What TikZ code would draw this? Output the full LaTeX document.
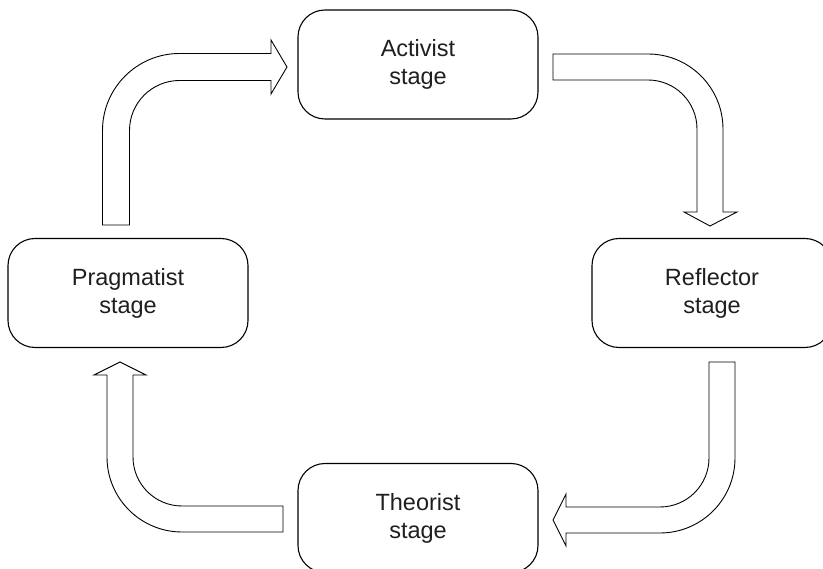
\documentclass[tikz,border=0pt]{standalone}
\usepackage{fontspec}
\setmainfont{Liberation Sans}
\begin{document}
\begin{tikzpicture}[x=1pt,y=1pt,
  stagebox/.style={draw=black, line width=1.1pt, rounded corners=27pt,
    minimum width=240pt, minimum height=109pt, inner sep=0pt, align=center,
    font=\fontsize{23.5}{28}\selectfont, text=black!88},
  bentarrow/.style={draw=black, line width=0.9pt, fill=white, line join=miter}]
\clip (0,0) rectangle (823,-569);
\fill[white] (0,0) rectangle (823,-569);

\node[stagebox] (act) at (418,-64.5) {Activist\\stage};
\node[stagebox] (ref) at (712,-293) {Reflector\\stage};
\node[stagebox] (the) at (418,-518) {Theorist\\stage};
\node[stagebox] (pra) at (128,-293) {Pragmatist\\stage};

% Pragmatist -> Activist
\draw[bentarrow] (102.5,-225) -- (102.5,-130.5) arc[start angle=180,end angle=90,radius=77]
  -- (271,-53.5) -- (271,-40) -- (287,-67) -- (271,-94) -- (271,-80.5) -- (179.5,-80.5)
  arc[start angle=90,end angle=180,radius=50] -- (129.5,-225) -- cycle;

% Activist -> Reflector
\draw[bentarrow] (553,-54) -- (648,-54) arc[start angle=90,end angle=0,radius=75]
  -- (723,-212) -- (737,-212) -- (710,-226) -- (684,-212) -- (697,-212) -- (697,-129)
  arc[start angle=0,end angle=90,radius=49] -- (553,-80) -- cycle;

% Reflector -> Theorist
\draw[bentarrow] (735,-362) -- (735,-458) arc[start angle=0,end angle=-90,radius=75]
  -- (566,-533) -- (566,-546) -- (553,-520) -- (566,-494) -- (566,-507) -- (660,-507)
  arc[start angle=-90,end angle=0,radius=49] -- (709,-362) -- cycle;

% Theorist -> Pragmatist
\draw[bentarrow] (283,-532) -- (182,-532) arc[start angle=-90,end angle=-180,radius=75]
  -- (107,-375) -- (94,-375) -- (120,-362) -- (146,-375) -- (133,-375) -- (133,-457)
  arc[start angle=180,end angle=270,radius=49] -- (283,-506) -- cycle;
\end{tikzpicture}
\end{document}
